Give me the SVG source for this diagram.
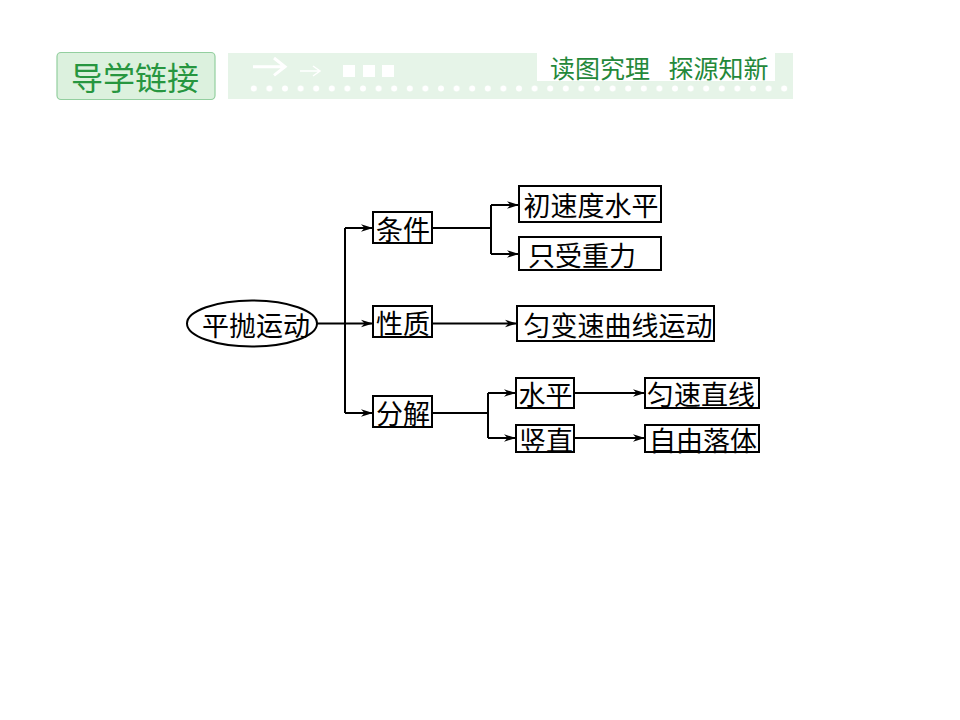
<svg xmlns="http://www.w3.org/2000/svg" width="960" height="720" viewBox="0 0 960 720">
<defs>
<marker id="ah" markerUnits="userSpaceOnUse" markerWidth="13" markerHeight="9" refX="12" refY="4.5" orient="auto">
<path d="M0,0.8 L12,4.5 L0,8.2 L3.5,4.5 z" fill="#000"/>
</marker>
<pattern id="dots" patternUnits="userSpaceOnUse" x="246" y="84" width="15.6" height="9">
<circle cx="7.8" cy="4.5" r="3" fill="#fff"/>
</pattern>
<style>
.box{fill:#fff;stroke:#000;stroke-width:2}
.t{font-family:"Noto Sans CJK SC","Noto Sans CJK JP",sans-serif;font-size:27px;fill:#000;text-anchor:middle;dominant-baseline:central}
.c{fill:none;stroke:#000;stroke-width:2}
.ca{fill:none;stroke:#000;stroke-width:2;marker-end:url(#ah)}
.hd{font-family:"Noto Sans CJK SC",sans-serif;text-anchor:middle;dominant-baseline:central}
</style>
</defs>
<rect width="960" height="720" fill="#fff"/>
<g id="header">
<rect x="57" y="52.5" width="158" height="47" rx="4" fill="#dcf1de" stroke="#93cf9f" stroke-width="1.2"/>
<text class="hd" x="135" y="76" font-size="32" fill="#279640">导学链接</text>
<rect x="228" y="53" width="565" height="46" fill="#e6f4e8"/>
<path d="M253,66.7 H284 M274,58 L285,66.7 L274,75.4" fill="none" stroke="#fff" stroke-width="3"/>
<path d="M300,71 H319 M313,66 L320,71 L313,76" fill="none" stroke="#fff" stroke-width="1.5"/>
<rect x="343" y="65" width="12" height="12" fill="#fff"/>
<rect x="363" y="65" width="12" height="12" fill="#fff"/>
<rect x="382" y="65" width="12" height="12" fill="#fff"/>
<rect x="246" y="84" width="545" height="9" fill="url(#dots)"/>
<rect x="537" y="53" width="238" height="28" fill="#fff"/>
<text class="hd" x="600" y="67" font-size="25" fill="#24883a">读图究理</text>
<text class="hd" x="718.5" y="67" font-size="25" fill="#24883a">探源知新</text>
</g>
<g id="connectors">
<path class="c" d="M317,323.5 H345 M345,228 V413"/>
<path class="ca" d="M345,228 H373"/>
<path class="ca" d="M345,323.5 H373"/>
<path class="ca" d="M345,413 H373"/>
<path class="c" d="M432,228 H491 M491,205 V254"/>
<path class="ca" d="M491,205 H519"/>
<path class="ca" d="M491,254 H519"/>
<path class="ca" d="M432,323.5 H517"/>
<path class="c" d="M432,413 H488 M488,393 V438" stroke-width="1.5"/>
<path class="ca" d="M488,393 H516"/>
<path class="ca" d="M488,438 H516"/>
<path class="ca" d="M574,393 H645" stroke-width="1.6"/>
<path class="ca" d="M574,438 H645" stroke-width="1.6"/>
</g>
<g id="n-pingpao">
<ellipse cx="252" cy="323.5" rx="65" ry="23" fill="#fff" stroke="#000" stroke-width="2"/>
<text class="t" x="256" y="324">平抛运动</text>
</g>
<g id="n-tiaojian">
<rect class="box" x="373" y="212" width="59" height="31"/>
<text class="t" x="403" y="228">条件</text>
</g>
<g id="n-xingzhi">
<rect class="box" x="373" y="306" width="59" height="31"/>
<text class="t" x="403" y="322">性质</text>
</g>
<g id="n-fenjie">
<rect class="box" x="373" y="396" width="59" height="31"/>
<text class="t" x="403" y="412">分解</text>
</g>
<g id="n-chusudu">
<rect class="box" x="519" y="186" width="142" height="36"/>
<text class="t" x="591" y="204.5">初速度水平</text>
</g>
<g id="n-zhishou">
<rect class="box" x="519" y="237" width="142" height="33"/>
<text class="t" x="582" y="254">只受重力</text>
</g>
<g id="n-yunbiansu">
<rect class="box" x="517" y="306" width="197" height="35"/>
<text class="t" x="618" y="324">匀变速曲线运动</text>
</g>
<g id="n-shuiping">
<rect class="box" x="516" y="378" width="58" height="30"/>
<text class="t" x="545.5" y="393.5">水平</text>
</g>
<g id="n-shuzhi">
<rect class="box" x="516" y="425" width="58" height="27"/>
<text class="t" x="546" y="439">竖直</text>
</g>
<g id="n-yunsu">
<rect class="box" x="645" y="378" width="114" height="30"/>
<text class="t" x="701" y="393.5">匀速直线</text>
</g>
<g id="n-ziyou">
<rect class="box" x="645" y="425" width="114" height="27"/>
<text class="t" x="703" y="439">自由落体</text>
</g>
</svg>
